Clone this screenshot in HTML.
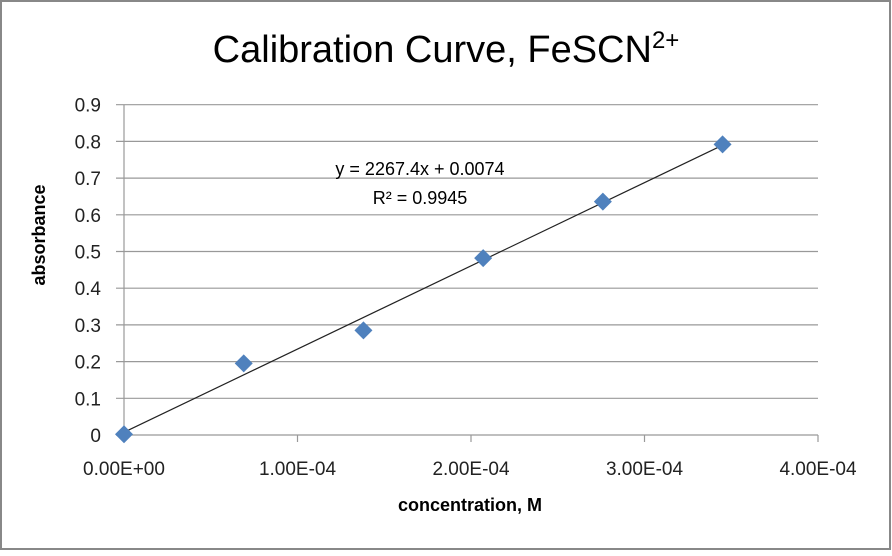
<!DOCTYPE html>
<html><head><meta charset="utf-8"><style>
body{margin:0;background:#fff;}
svg text{font-family:"Liberation Sans",sans-serif;}
</style></head><body>
<svg id="c" width="892" height="551" viewBox="0 0 892 551">
<rect x="1" y="1" width="889" height="548" fill="#fff" stroke="#888" stroke-width="2"/>
<text x="446" y="62" font-size="38" text-anchor="middle" fill="#000">Calibration Curve, FeSCN<tspan font-size="24" dy="-14">2+</tspan></text>
<g id="grid"></g>
<g id="marks"></g>
<text x="420" y="175" font-size="18" text-anchor="middle">y = 2267.4x + 0.0074</text>
<text x="420" y="204" font-size="18" text-anchor="middle">R² = 0.9945</text>
<text x="470" y="511" font-size="18" font-weight="bold" text-anchor="middle">concentration, M</text>
<text transform="translate(45,235) rotate(-90)" font-size="18" font-weight="bold" text-anchor="middle">absorbance</text>
</svg>
<script>
const xVals=[0,6.9e-5,1.38e-4,2.07e-4,2.76e-4,3.45e-4];
const yVals=[0.002,0.195,0.285,0.482,0.636,0.792];
const yTicks=[0,0.1,0.2,0.3,0.4,0.5,0.6,0.7,0.8,0.9];
const yTickLabels=["0","0.1","0.2","0.3","0.4","0.5","0.6","0.7","0.8","0.9"];
const xTicks=[0,1e-4,2e-4,3e-4,4e-4];
const xTickLabels=["0.00E+00","1.00E-04","2.00E-04","3.00E-04","4.00E-04"];
const slope=2267.4, intercept=0.0074;
const X0=124,X1=818,Y0=435,Y1=104.7;
const sx=v=>X0+(v/4e-4)*(X1-X0);
const sy=v=>Y0-(v/0.9)*(Y0-Y1);
const NS="http://www.w3.org/2000/svg";
const grid=document.getElementById('grid'),marks=document.getElementById('marks');
function mk(tag,attrs,parent){const e=document.createElementNS(NS,tag);for(const k in attrs)e.setAttribute(k,attrs[k]);parent.appendChild(e);return e;}
yTicks.forEach((t,i)=>{
  const l=mk('line',{x1:X0-8,x2:X1,y1:sy(t),y2:sy(t),stroke:'#999','stroke-width':1.2},grid);
  
  
  const tx=mk('text',{x:101,y:sy(t)+7,'font-size':19,'text-anchor':'end',fill:'#222'},grid);
  tx.textContent=yTickLabels[i];
  
  
});
const ax=mk('line',{x1:X0,x2:X0,y1:Y1,y2:Y0,stroke:'#999','stroke-width':1.2},grid);


xTicks.forEach((t,i)=>{
  const l=mk('line',{x1:sx(t),x2:sx(t),y1:Y0,y2:Y0+7,stroke:'#999','stroke-width':1.2},grid);
  
  
  const tx=mk('text',{x:sx(t),y:Y0+40,'font-size':19,'text-anchor':'middle',fill:'#222'},grid);
  tx.textContent=xTickLabels[i];
  
  
});
const xa=xVals[0],xb=xVals[xVals.length-1];
const tl=mk('line',{x1:sx(xa),y1:sy(slope*xa+intercept),x2:sx(xb),y2:sy(slope*xb+intercept),stroke:'#222','stroke-width':1.2},marks);


xVals.forEach((v,i)=>{
  const cx=sx(v),cy=sy(yVals[i]),r=9;
  const p=mk('polygon',{points:`${cx},${cy-r} ${cx+r},${cy} ${cx},${cy+r} ${cx-r},${cy}`,fill:'#4f81bd'},marks);
  
  
});
</script>
</body></html>
